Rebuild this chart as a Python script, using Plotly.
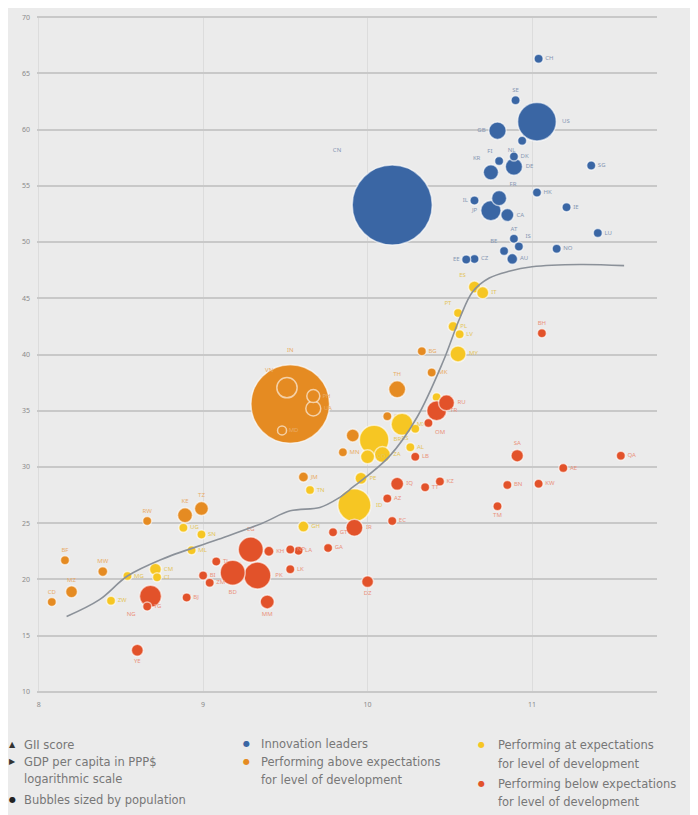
import plotly.graph_objects as go

# ---------------- data ----------------
# x = GDP per capita (log scale units as on the axis), y = GII score, pop = population (millions)
lead_names = ["CH", "SE", "US", "GB", "NL", "FI", "DK", "DE", "KR", "SG", "HK", "FR", "IL",
              "JP", "CA", "IE", "LU", "AT", "NO", "IS", "BE", "AU", "CZ", "EE", "CN"]
lead_gdp = [11.04, 10.90, 11.03, 10.79, 10.94, 10.80, 10.89, 10.89, 10.75, 11.36, 11.03, 10.80, 10.65,
            10.75, 10.85, 11.21, 11.40, 10.89, 11.15, 10.92, 10.83, 10.88, 10.65, 10.60, 10.15]
lead_gii = [66.3, 62.6, 60.7, 59.9, 59.0, 57.2, 57.6, 56.7, 56.2, 56.8, 54.4, 53.9, 53.7,
            52.8, 52.4, 53.1, 50.8, 50.3, 49.4, 49.6, 49.2, 48.5, 48.5, 48.45, 53.3]
lead_pop = [8.5, 10.0, 327, 66, 17, 5.5, 5.8, 65, 51, 5.7, 7.4, 50, 8.9,
            90, 37, 4.9, 0.6, 8.9, 5.3, 0.35, 11.5, 25, 10.6, 1.3, 1400]

above_names = ["IN", "VN", "PH", "UA", "MD", "TH", "GE", "MN", "JM", "TZ", "KE", "RW",
               "BF", "MW", "MZ", "CD", "BG", "MK", "CR"]
above_gdp = [9.53, 9.51, 9.67, 9.67, 9.48, 10.18, 9.91, 9.85, 9.61, 8.99, 8.89, 8.66,
             8.16, 8.39, 8.20, 8.08, 10.33, 10.39, 10.12]
above_gii = [35.6, 37.05, 36.3, 35.2, 33.25, 36.9, 32.8, 31.3, 29.1, 26.3, 25.7, 25.2,
             21.7, 20.7, 18.9, 18.0, 40.3, 38.4, 34.5]
above_pop = [1350, 90, 37, 49, 3.5, 63, 37, 14, 22, 43, 49, 14,
             14, 21, 31, 17, 7, 2, 8]

at_names = ["ES", "IT", "PT", "PL", "LV", "MY", "MX", "BR", "CO", "ZA", "PE", "ID", "TN",
            "GH", "UG", "SN", "ML", "MG", "CM", "CI", "ZW", "HR", "RS", "AL"]
at_gdp = [10.65, 10.70, 10.55, 10.52, 10.56, 10.55, 10.21, 10.04, 10.00, 10.09, 9.96, 9.92, 9.65,
          9.61, 8.88, 8.99, 8.93, 8.54, 8.71, 8.72, 8.44, 10.42, 10.29, 10.26]
at_gii = [46.0, 45.5, 43.7, 42.5, 41.8, 40.05, 33.8, 32.4, 30.9, 31.1, 29.0, 26.6, 27.95,
          24.7, 24.6, 24.0, 22.6, 20.3, 20.9, 20.2, 18.1, 36.2, 33.4, 31.75]
at_pop = [32, 32, 8, 22, 8, 56, 106, 190, 43, 56, 31, 238, 10,
          26, 18, 10, 8, 17, 31, 8, 5, 8, 5, 3]

below_names = ["RU", "TR", "OM", "IQ", "AZ", "KZ", "TT", "LB", "IR", "EC", "GT", "GA", "SA",
               "KW", "BN", "TM", "BH", "AE", "QA", "BD", "EG", "PK", "KH", "MM", "NP", "LA",
               "LK", "TJ", "BI", "ZM", "BJ", "NG", "TG", "YE", "DZ"]
below_gdp = [10.48, 10.42, 10.37, 10.18, 10.12, 10.44, 10.35, 10.29, 9.92, 10.15, 9.79, 9.76, 10.91,
             11.04, 10.85, 10.79, 11.06, 11.19, 11.54, 9.18, 9.29, 9.33, 9.40, 9.39, 9.53, 9.58,
             9.53, 9.08, 9.00, 9.04, 8.90, 8.68, 8.66, 8.60, 10.00]
below_gii = [35.7, 35.0, 33.9, 28.5, 27.2, 28.7, 28.2, 30.9, 24.6, 25.2, 24.2, 22.8, 31.0,
             28.5, 28.4, 26.5, 41.9, 29.9, 31.0, 20.6, 22.65, 20.35, 22.5, 18.0, 22.65, 22.56,
             20.9, 21.6, 20.35, 19.7, 18.4, 18.5, 17.6, 13.7, 19.8]
below_pop = [56, 87, 4, 37, 5, 18, 2, 3, 63, 14, 14, 2, 34,
             8, 4.8, 8, 0.5, 2, 2.8, 137, 137, 160, 22, 43, 10, 17,
             5, 14, 14, 10, 10, 106, 2, 31, 31]

# fitted trend line
curve_gdp = [8.17, 8.37, 8.54, 8.75, 9.08, 9.36, 9.53, 9.71, 9.82, 9.91, 10.13, 10.30,
             10.46, 10.56, 10.64, 10.74, 10.86, 11.00, 11.29, 11.56]
curve_gii = [16.7, 18.2, 20.3, 21.8, 23.5, 25.0, 26.1, 26.4, 27.2, 28.2, 30.9, 34.4,
             39.4, 43.2, 45.6, 46.8, 47.4, 47.8, 48.0, 47.9]

x_tick_vals = [8, 9, 10, 11]
x_tick_text = ["8", "9", "10", "11"]
y_tick_vals = [10, 15, 20, 25, 30, 35, 40, 45, 50, 55, 60, 65, 70]

# ---------------- styles ----------------
BG = "#ebebeb"
C_LEAD, C_ABOVE, C_AT, C_BELOW = "#3a66a4", "#e58b22", "#f6c623", "#e2522a"
L_LEAD, L_ABOVE, L_AT, L_BELOW = "#8797b3", "#e9ab68", "#e4c55a", "#ea927c"
LABEL_POS = {"CN": "top left", "GB": "middle left", "KR": "top left", "IL": "middle left",
             "JP": "middle left", "EE": "middle left", "SE": "top center", "FI": "top left",
             "AT": "top center", "BE": "top left", "NL": "bottom left", "IS": "top right",
             "FR": "top right", "IN": "top center", "SA": "top center", "YE": "bottom center",
             "BD": "bottom center", "MM": "bottom center", "EG": "top center", "TZ": "top center",
             "KE": "top center", "BF": "top center", "MW": "top center", "CD": "top center",
             "MZ": "top center", "BH": "top center", "TM": "bottom center", "DZ": "bottom center",
             "ES": "top left", "PT": "top left", "VN": "top left", "TH": "top center",
             "RW": "top center", "NG": "bottom left", "RS": "bottom left", "OM": "bottom right"}

MAXPOP, MAXD = 1400.0, 80.0
sizeref = 2.0 * MAXPOP / MAXD ** 2


def bubble_trace(names, xs, ys, pops, color, lcolor):
    order = sorted(range(len(names)), key=lambda i: -pops[i])
    n = [names[i] for i in order]
    return go.Scatter(
        x=[xs[i] for i in order], y=[ys[i] for i in order],
        mode="markers+text",
        text=n,
        textposition=[LABEL_POS.get(k, "middle right") for k in n],
        textfont=dict(size=6, color=lcolor, family="Noto Sans"),
        marker=dict(size=[pops[i] for i in order], sizemode="area", sizeref=sizeref, sizemin=4.5,
                    color=color, opacity=1,
                    line=dict(color="rgba(255,255,255,0.6)", width=1.5)),
        hoverinfo="text", showlegend=False, cliponaxis=False)


fig = go.Figure()
fig.add_trace(bubble_trace(above_names, above_gdp, above_gii, above_pop, C_ABOVE, L_ABOVE))
fig.add_trace(bubble_trace(at_names, at_gdp, at_gii, at_pop, C_AT, L_AT))
fig.add_trace(bubble_trace(below_names, below_gdp, below_gii, below_pop, C_BELOW, L_BELOW))
fig.add_trace(bubble_trace(lead_names, lead_gdp, lead_gii, lead_pop, C_LEAD, L_LEAD))
fig.add_trace(go.Scatter(x=curve_gdp, y=curve_gii, mode="lines",
                         line=dict(color="#8b9199", width=1.6, shape="spline", smoothing=1.0),
                         showlegend=False, hoverinfo="skip"))

# page has an 8px body margin: figure is placed at (8, 8) in the window
OFF = 8
W, H = 690, 807
PLOT_L, PLOT_R, PLOT_T, PLOT_B = 29, 41, 5, 122
plot_h = H - PLOT_T - PLOT_B
plot_w = W - PLOT_L - PLOT_R


def px(x):  # window pixel -> paper x
    return (x - OFF - PLOT_L) / plot_w


def py(y):  # window pixel -> paper y
    return (H - PLOT_B - (y - OFF)) / plot_h


TXT = "#777777"
legend_items = [
    # (symbol, symbol colour, symbol x, text, text x, y)
    ("▲", "#333333", 7, "GII score", 22, 745),
    ("▶", "#333333", 7, "GDP per capita in PPP$", 22, 762),
    (None, None, None, "logarithmic scale", 22, 779),
    ("●", "#222222", 7, "Bubbles sized by population", 22, 800),
    ("●", C_LEAD, 241, "Innovation leaders", 259, 744),
    ("●", C_ABOVE, 241, "Performing above expectations", 259, 762),
    (None, None, None, "for level of development", 259, 780),
    ("●", C_AT, 476, "Performing at expectations", 496, 745),
    (None, None, None, "for level of development", 496, 764),
    ("●", C_BELOW, 476, "Performing below expectations", 496, 784),
    (None, None, None, "for level of development", 496, 802),
]
annotations = []
for sym, scol, sx, text, tx, ty in legend_items:
    if sym:
        annotations.append(dict(x=px(sx), y=py(ty), xref="paper", yref="paper", text=sym,
                                showarrow=False, xanchor="left", yanchor="middle",
                                font=dict(size=8, color=scol, family="DejaVu Sans")))
    annotations.append(dict(x=px(tx), y=py(ty), xref="paper", yref="paper", text=text,
                            showarrow=False, xanchor="left", yanchor="middle",
                            font=dict(size=11.5, color=TXT, family="DejaVu Sans")))

fig.update_layout(
    width=W, height=H,
    margin=dict(l=PLOT_L, r=PLOT_R, t=PLOT_T, b=PLOT_B, pad=0),
    paper_bgcolor=BG, plot_bgcolor=BG,
    font=dict(family="Noto Sans", color="#8a8a8a"),
    annotations=annotations,
    xaxis=dict(range=[7.99, 11.76], tickvals=x_tick_vals, ticktext=x_tick_text,
               showgrid=True, gridcolor="#dcdcdc", gridwidth=1.2, zeroline=False,
               showline=False, ticks="", tickfont=dict(size=7, color="#8a8a8a"), ticklabelstandoff=6),
    yaxis=dict(range=[9.9, 70.1], tickvals=y_tick_vals,
               showgrid=True, gridcolor="#c8c8c8", gridwidth=1.5, zeroline=False,
               showline=False, ticks="", tickfont=dict(size=7, color="#8a8a8a"), ticklabelstandoff=6),
)

fig.write_html("out.html")
